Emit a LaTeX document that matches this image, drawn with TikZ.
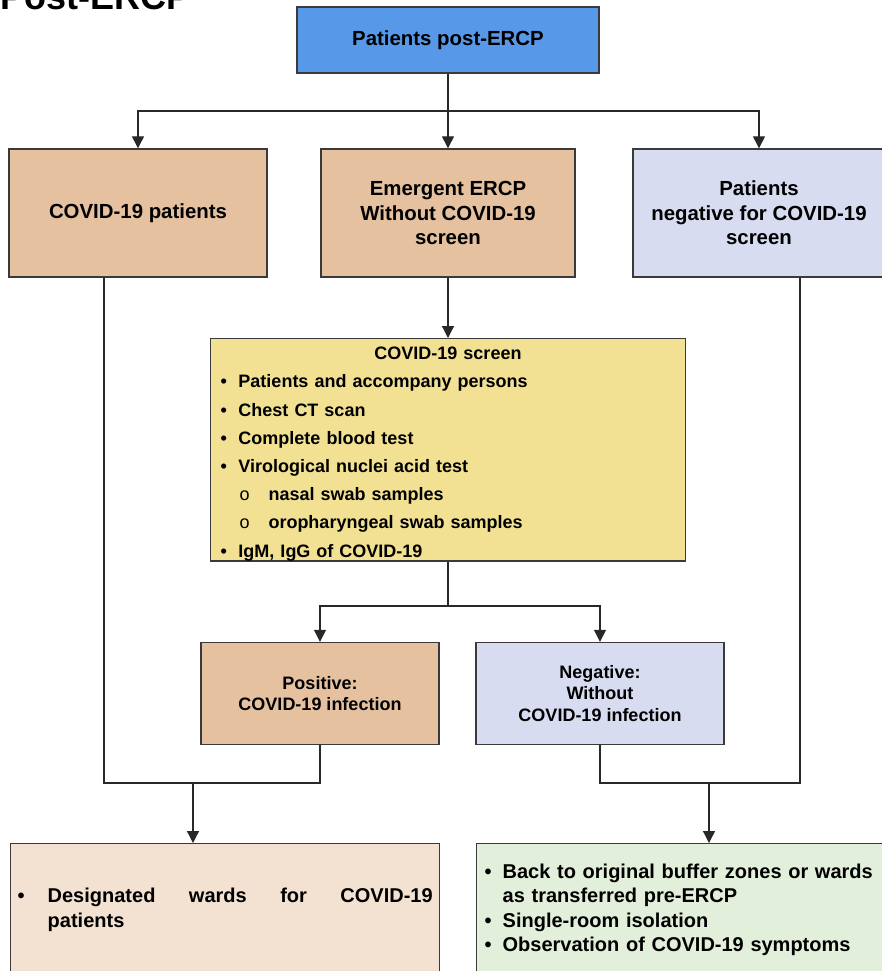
\documentclass[tikz,border=0pt]{standalone}
\usepackage{fontspec}
\setmainfont{Liberation Sans}
\usetikzlibrary{arrows.meta}
\definecolor{topblue}{RGB}{88,152,232}
\definecolor{tanbox}{RGB}{229,193,160}
\definecolor{lavbox}{RGB}{215,220,240}
\definecolor{yelbox}{RGB}{242,225,146}
\definecolor{peachbox}{RGB}{243,225,210}
\definecolor{greenbox}{RGB}{226,239,218}
\definecolor{boxline}{RGB}{58,58,58}
\definecolor{linkgray}{RGB}{40,40,40}
\tikzset{
  box/.style={draw=boxline, line width=1.4pt, inner sep=0pt, align=center,
    font=\bfseries\fontsize{20.4}{24.5}\selectfont},
  smallbox/.style={box, font=\bfseries\fontsize{18}{21.5}\selectfont},
  link/.style={draw=linkgray, line width=1.3pt},
  arr/.style={link, -{Triangle[length=12pt,width=12pt]}},
}
\newcommand{\bul}[1]{\makebox[#1][l]{\textbullet}}
\begin{document}
\begin{tikzpicture}[x=1pt,y=-1pt]
\useasboundingbox (0,0) rectangle (881,971);
% title, cut off at the top
\node[anchor=base west, inner sep=0pt, font=\bfseries\fontsize{36}{40}\selectfont] (title) at (0,10) {Post-ERCP};

% first row
\node[box, fill=topblue, minimum width=302, minimum height=66] (top) at (448,40) {Patients post-ERCP};
\node[box, fill=tanbox, minimum width=258, minimum height=128] (covidpat) at (138,213) {COVID-19 patients};
\node[box, fill=tanbox, minimum width=254, minimum height=128] (emerg) at (448,213) {Emergent ERCP\\Without COVID-19\\screen};
\node[box, fill=lavbox, minimum width=252, minimum height=128] (negscreen) at (759,213) {Patients\\negative for COVID-19\\screen};

% screen
\node[box, fill=yelbox, anchor=north, text width=455, inner xsep=10pt, inner ysep=0pt,
  minimum height=222, align=left, font=\bfseries\fontsize{18}{28.2}\selectfont] (screen) at (448,338)
  {\rule{0pt}{21pt}\makebox[455pt][c]{COVID-19 screen}\\
   \bul{18pt}Patients and accompany persons\\
   \bul{18pt}Chest CT scan\\
   \bul{18pt}Complete blood test\\
   \bul{18pt}Virological nuclei acid test\\
   \hspace*{19pt}\makebox[29pt][l]{\mdseries o}nasal swab samples\\
   \hspace*{19pt}\makebox[29pt][l]{\mdseries o}oropharyngeal swab samples\\
   \bul{18pt}IgM, IgG of COVID-19};

% results
\node[smallbox, fill=tanbox, minimum width=238, minimum height=102] (pos) at (320,693.5) {Positive:\\COVID-19 infection};
\node[smallbox, fill=lavbox, minimum width=248, minimum height=102] (neg) at (600,693.5) {Negative:\\Without\\COVID-19 infection};

% outcomes
\node[box, fill=peachbox, anchor=north west, minimum width=429, minimum height=132, text width=415,
  inner xsep=7pt, align=left, font=\bfseries\fontsize{20}{24.5}\selectfont] (desig) at (10,843)
  {\bul{30pt}\makebox[385pt][l]{Designated\hfill wards\hfill for\hfill COVID-19}\\\hspace*{30pt}patients};
\node[box, fill=greenbox, anchor=north west, minimum width=416, minimum height=132, text width=400,
  inner xsep=8pt, align=left, font=\bfseries\fontsize{20}{24.5}\selectfont] (back) at (476,843)
  {\bul{18pt}Back to original buffer zones or wards\\
   \hspace*{18pt}as transferred pre-ERCP\\
   \bul{18pt}Single-room isolation\\
   \bul{18pt}Observation of COVID-19 symptoms};

% connectors
\coordinate (j1) at (448,111);
\coordinate (j2) at (448,606);
\coordinate (j3) at (193,783);
\coordinate (j4) at (709,783);
\draw[link] (top) -- (j1);
\draw[arr] (j1) -| (covidpat);
\draw[arr] (j1) -- (emerg);
\draw[arr] (j1) -| (negscreen);
\draw[arr] (emerg) -- (screen);
\draw[link] (screen) -- (j2);
\draw[arr] (j2) -| (pos);
\draw[arr] (j2) -| (neg);
\draw[link] ([xshift=-34pt]covidpat.south) |- (j3) -| (pos);
\draw[link] ([xshift=41pt]negscreen.south) |- (j4) -| (neg);
\draw[arr] (j3) -- (j3 |- desig.north);
\draw[arr] (j4) -- (j4 |- back.north);
\end{tikzpicture}
\end{document}
